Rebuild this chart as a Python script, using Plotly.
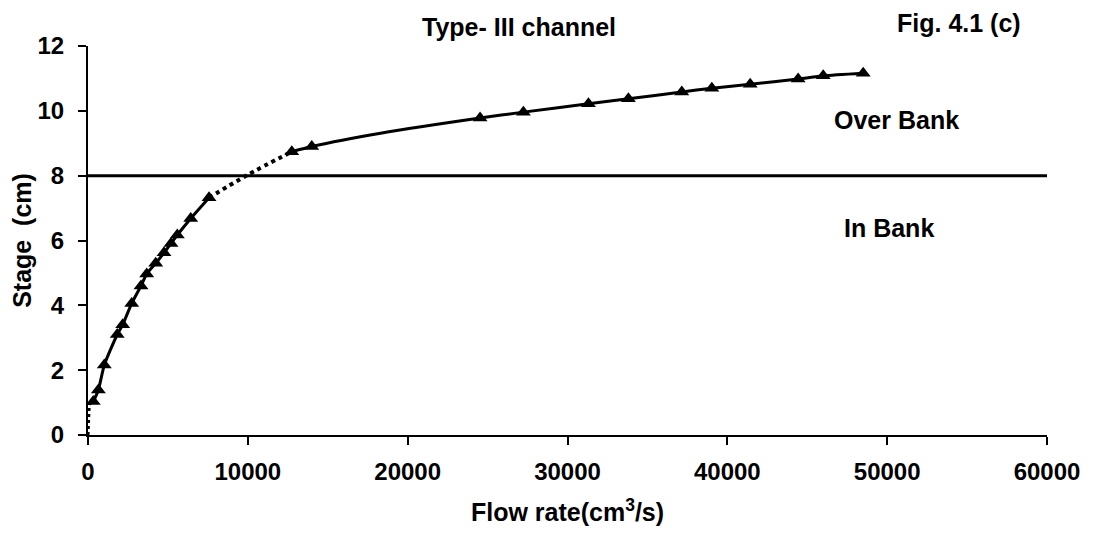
import plotly.graph_objects as go

# ---- data ----
inbank_q = [330, 650, 1020, 1830, 2170, 2735, 3317, 3673, 4236, 4756, 5194, 5588, 6427, 7572]
inbank_h = [1.03, 1.39, 2.16, 3.10, 3.40, 4.06, 4.60, 4.97, 5.30, 5.62, 5.91, 6.17, 6.68, 7.32]

overbank_q = [12750, 14000, 24530, 27240, 31310, 33810, 37150, 39030, 41430, 44430, 46000, 48500]
overbank_h = [8.74, 8.90, 9.78, 9.96, 10.22, 10.37, 10.58, 10.70, 10.82, 10.98, 11.08, 11.16]

# unmarked points of the drawn curve
origin_q = [0, 80, 330]
origin_h = [0.0, 0.95, 1.03]
transition_q = [7572, 9900, 12750]
transition_h = [7.32, 8.00, 8.74]
ob_line_q = [12750, 14000, 18300, 24530, 27240, 31310, 33810, 37150, 39030, 41430, 44430, 46000, 48500]
ob_line_h = [8.74, 8.90, 9.31, 9.78, 9.96, 10.22, 10.37, 10.58, 10.70, 10.82, 10.98, 11.08, 11.16]

bank_q = [0, 60000]
bank_h = [8, 8]

x_ticks = [0, 10000, 20000, 30000, 40000, 50000, 60000]
y_ticks = [0, 2, 4, 6, 8, 10, 12]

FONT = "Liberation Sans, Arial, sans-serif"
FS = 24
FS_TXT = 25

fig = go.Figure()

fig.add_trace(go.Scatter(x=bank_q, y=bank_h, mode="lines",
                         line=dict(color="black", width=3), cliponaxis=False))
fig.add_trace(go.Scatter(x=origin_q, y=origin_h, mode="lines",
                         line=dict(color="black", width=3, dash="dot")))
fig.add_trace(go.Scatter(x=transition_q, y=transition_h, mode="lines",
                         line=dict(color="black", width=4, dash="dot", shape="spline")))
fig.add_trace(go.Scatter(x=inbank_q, y=inbank_h, mode="lines",
                         line=dict(color="black", width=3, shape="spline", smoothing=0.6)))
fig.add_trace(go.Scatter(x=ob_line_q, y=ob_line_h, mode="lines",
                         line=dict(color="black", width=3, shape="spline", smoothing=0.6)))
fig.add_trace(go.Scatter(x=inbank_q + overbank_q, y=inbank_h + overbank_h, mode="markers",
                         marker=dict(symbol="triangle-up", size=13, color="black"),
                         cliponaxis=False))

# the page body adds an 8px offset; the figure is sized so the plot lands where the reference has it
OFF = 8
W, H = 1093 - OFF, 541 - OFF
L, R, T, B = 88 - OFF, 46, 46 - OFF, 106
pw, ph = W - L - R, H - T - B


def ann(text, px, py, size=FS_TXT):
    # px, py: position in the screenshot
    return dict(text=text, x=(px - OFF - L) / pw, y=(H - B - (py - OFF)) / ph,
                xref="paper", yref="paper",
                xanchor="center", yanchor="middle", showarrow=False,
                font=dict(family=FONT, size=size, weight="bold", color="black"))


fig.update_layout(
    width=W, height=H,
    margin=dict(l=L, r=R, t=T, b=B),
    paper_bgcolor="white", plot_bgcolor="white",
    showlegend=False,
    font=dict(family=FONT, size=FS, color="black", weight="bold"),
    xaxis=dict(range=[0, 60000], tickvals=x_ticks, ticktext=[str(v) for v in x_ticks],
               automargin=False,
               showgrid=False, zeroline=False, showline=True, linecolor="black", linewidth=2,
               ticks="outside", ticklen=8, tickwidth=2, tickcolor="black",
               ticklabelstandoff=6,
               tickfont=dict(family=FONT, size=FS, weight="bold"),
               title=dict(text="Flow rate(cm<sup>3</sup>/s)", standoff=20,
                          font=dict(family=FONT, size=FS_TXT, weight="bold"))),
    yaxis=dict(range=[0, 12], tickvals=y_ticks, ticktext=[str(v) for v in y_ticks],
               automargin=False,
               showgrid=False, zeroline=False, showline=True, linecolor="black", linewidth=2,
               ticks="outside", ticklen=8, tickwidth=2, tickcolor="black",
               ticklabelstandoff=9,
               tickfont=dict(family=FONT, size=FS, weight="bold"),
               title=dict(text="Stage  (cm)", standoff=8,
                          font=dict(family=FONT, size=FS_TXT, weight="bold"))),
    annotations=[
        ann("Type- III channel", 519, 27),
        ann("Fig. 4.1 (c)", 959, 23),
        ann("Over Bank", 896, 120),
        ann("In Bank", 889, 228),
    ],
)

fig.write_html("out.html")
